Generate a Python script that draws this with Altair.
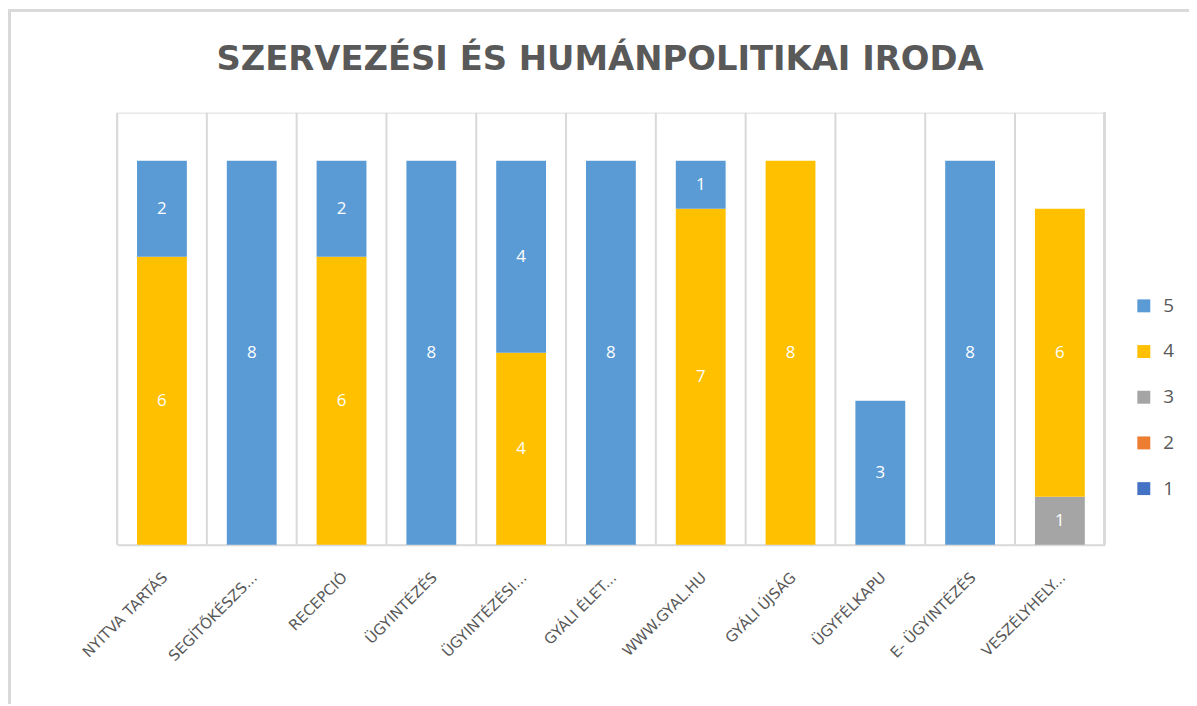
import altair as alt
import pandas as pd

categories = ["NYITVA TARTÁS", "SEGÍTŐKÉSZS...", "RECEPCIÓ", "ÜGYINTÉZÉS", "ÜGYINTÉZÉSI...",
              "GYÁLI ÉLET...", "WWW.GYAL.HU", "GYÁLI ÚJSÁG", "ÜGYFÉLKAPU", "E- ÜGYINTÉZÉS",
              "VESZÉLYHELY..."]
r5 = [2, 8, 2, 8, 4, 8, 1, 0, 3, 8, 0]
r4 = [6, 0, 6, 0, 4, 0, 7, 8, 0, 0, 6]
r3 = [0, 0, 0, 0, 0, 0, 0, 0, 0, 0, 1]
r2 = [0] * 11
r1 = [0] * 11
ratings = ["5", "4", "3", "2", "1"]
colors = ["#5B9BD5", "#FFC000", "#A5A5A5", "#ED7D31", "#4472C4"]
title = "SZERVEZÉSI ÉS HUMÁNPOLITIKAI IRODA"

rows = []
for series, name in [(r1, "1"), (r2, "2"), (r3, "3"), (r4, "4"), (r5, "5")]:
    for c, v in zip(categories, series):
        if v > 0:
            rows.append({"cat": c, "rating": name, "value": v, "rnum": int(name)})
df = pd.DataFrame(rows)
cat_df = pd.DataFrame({"cat": categories})

W, H = 994, 435
STEP = W / len(categories)
xscale = alt.Scale(domain=categories, paddingInner=0.445, paddingOuter=0.22)

bars = alt.Chart(df).mark_bar().encode(
    x=alt.X("cat:N", sort=categories, title=None, scale=xscale,
            axis=alt.Axis(labelAngle=-45, labelFont="DejaVu Sans", labelFontSize=15,
                          labelColor="#595959", labelPadding=30, labelOffset=3,
                          ticks=False, grid=False, domainColor="#d9d9d9", domainWidth=2,
                          labelLimit=300)),
    y=alt.Y("value:Q", stack="zero", scale=alt.Scale(domain=[0, 9]), axis=None),
    color=alt.Color("rating:N", scale=alt.Scale(domain=ratings, range=colors),
                    legend=alt.Legend(title=None, orient="none", legendX=1024, legendY=185,
                                      symbolType="square", symbolSize=170,
                                      symbolStrokeWidth=0,
                                      labelFont="Open Sans", labelFontSize=19,
                                      labelColor="#595959", rowPadding=26, labelOffset=10)),
    order=alt.Order("rnum:Q", sort="ascending"),
)

grid = alt.Chart(cat_df).mark_rule(color="#d9d9d9", strokeWidth=2, xOffset=-STEP / 2).encode(
    x=alt.X("cat:N", sort=categories, scale=xscale),
    y=alt.value(0), y2=alt.value(H),
)
grid_right = alt.Chart(cat_df).mark_rule(color="#d9d9d9", strokeWidth=2).encode(
    x=alt.value(W), y=alt.value(0), y2=alt.value(H))

labels = alt.Chart(df).transform_stack(
    stack="value", groupby=["cat"], as_=["y0", "y1"],
    sort=[alt.SortField("rnum", order="ascending")]
).transform_calculate(mid="(datum.y0 + datum.y1) / 2").mark_text(
    color="white", font="Open Sans", fontSize=17, baseline="middle"
).encode(
    x=alt.X("cat:N", sort=categories, scale=xscale),
    y=alt.Y("mid:Q"),
    text="value:Q",
)

title_mark = alt.Chart(cat_df).transform_aggregate(n="count()").transform_calculate(
    t=f"'{title}'"
).mark_text(font="DejaVu Sans", fontSize=34, fontWeight="bold", color="#595959",
            align="center", baseline="alphabetic").encode(
    x=alt.value(W / 2 - 11), y=alt.value(-43), text="t:N")

frame_left = alt.Chart(cat_df).mark_rule(color="#d9d9d9", strokeWidth=3).encode(
    x=alt.value(-108.5), y=alt.value(-103), y2=alt.value(H + 160))
frame_top = alt.Chart(cat_df).mark_rule(color="#d9d9d9", strokeWidth=2).encode(
    x=alt.value(-110), x2=alt.value(W + 86), y=alt.value(-103))

chart = alt.layer(grid, grid_right, bars, labels, title_mark, frame_left, frame_top).properties(
    width=W, height=H,
    padding={"left": 110, "top": 103, "right": 85, "bottom": 160},
    autosize=alt.AutoSizeParams(type="none"),
).configure_view(stroke=None).configure(background="white")

chart.save("out.html", embed_options={"renderer": "svg", "actions": False})
